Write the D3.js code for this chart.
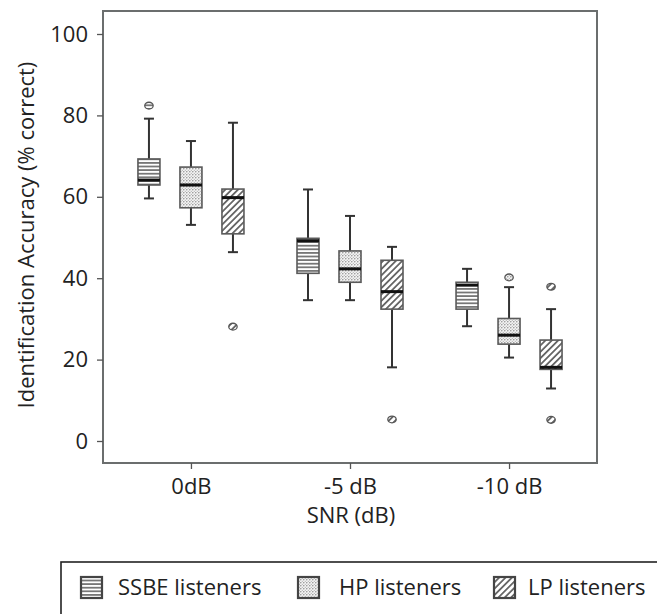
<!doctype html>
<html>
<head>
<meta charset="utf-8">
<script src="https://d3js.org/d3.v7.min.js"></script>
<style>
  body { margin: 0; background: #fff; }
  svg { display: block; font-family: "Open Sans", sans-serif; }
</style>
</head>
<body>
<svg id="chart" width="657" height="614"></svg>
<script>
// conditions and listener groups
var categories = ["0dB", "-5 dB", "-10 dB"];
var groups = ["SSBE listeners", "HP listeners", "LP listeners"];
var yTicks = [0, 20, 40, 60, 80, 100];

// box stats per condition: [lower whisker, q1, median, q3, upper whisker]
var ssbeStats = [[59.6, 62.9, 64.1, 69.3, 79.2], [34.6, 41.2, 49.2, 49.8, 61.8], [28.2, 32.4, 38.3, 39.0, 42.3]];
var hpStats   = [[53.1, 57.3, 62.9, 67.3, 73.7], [34.6, 39.0, 42.3, 46.7, 55.3], [20.5, 23.8, 26.0, 30.1, 37.8]];
var lpStats   = [[46.4, 50.9, 59.8, 61.9, 78.2], [18.1, 32.4, 36.7, 44.4, 47.7], [12.9, 17.6, 18.1, 24.8, 32.4]];

// outliers per condition
var ssbeOut = [[82.4], [], []];
var hpOut   = [[], [], [40.2]];
var lpOut   = [[28.1], [5.3], [37.9, 5.2]];

var stats = [ssbeStats, hpStats, lpStats];
var outs = [ssbeOut, hpOut, lpOut];
var patternIds = ["pat-h", "pat-dot", "pat-diag"];

var svg = d3.select("#chart");

// patterns
var defs = svg.append("defs");
var ph = defs.append("pattern").attr("id", "pat-h").attr("patternUnits", "userSpaceOnUse")
  .attr("width", 6).attr("height", 3.6);
ph.append("rect").attr("width", 6).attr("height", 3.6).attr("fill", "#fff");
ph.append("rect").attr("y", 0).attr("width", 6).attr("height", 1.8).attr("fill", "#777");

var pd = defs.append("pattern").attr("id", "pat-dot").attr("patternUnits", "userSpaceOnUse")
  .attr("width", 3).attr("height", 3);
pd.append("rect").attr("width", 3).attr("height", 3).attr("fill", "#f4f4f4");
pd.append("circle").attr("cx", 0.8).attr("cy", 0.8).attr("r", 0.75).attr("fill", "#888");
pd.append("circle").attr("cx", 2.3).attr("cy", 2.3).attr("r", 0.6).attr("fill", "#aaa");

var pg = defs.append("pattern").attr("id", "pat-diag").attr("patternUnits", "userSpaceOnUse")
  .attr("width", 4.5).attr("height", 4.5).attr("patternTransform", "rotate(45)");
pg.append("rect").attr("width", 4.5).attr("height", 4.5).attr("fill", "#fff");
pg.append("rect").attr("x", 0).attr("width", 1.8).attr("height", 4.5).attr("fill", "#666");

// scales
var frame = { left: 103, right: 597, top: 11, bottom: 463 };
var x = d3.scalePoint().domain(categories).range([frame.left, frame.right]).padding(0.553);
var xOff = d3.scalePoint().domain(groups).range([-42, 42]);
var y = d3.scaleLinear().domain([0, 100]).range([441, 34]);
var boxW = 22, capW = 10;

// frame
svg.append("rect")
  .attr("x", frame.left).attr("y", frame.top)
  .attr("width", frame.right - frame.left).attr("height", frame.bottom - frame.top)
  .attr("fill", "none").attr("stroke", "#6b6e6e").attr("stroke-width", 2);

// y axis
var yAxis = svg.append("g")
  .attr("transform", "translate(" + frame.left + ",0)")
  .call(d3.axisLeft(y).tickValues(yTicks).tickSize(6).tickPadding(9));
yAxis.select(".domain").remove();
yAxis.selectAll("line").attr("stroke", "#555").attr("stroke-width", 1.3);
yAxis.selectAll("text").attr("font-size", 22).attr("fill", "#222").attr("font-family", "'Open Sans', sans-serif");

// x axis
var xAxis = svg.append("g")
  .attr("transform", "translate(0," + frame.bottom + ")")
  .call(d3.axisBottom(x).tickSize(6).tickPadding(9));
xAxis.select(".domain").remove();
xAxis.selectAll("line").attr("stroke", "#555").attr("stroke-width", 1.3);
xAxis.selectAll("text").attr("font-size", 22).attr("fill", "#222").attr("font-family", "'Open Sans', sans-serif");

// axis titles
svg.append("text")
  .attr("x", 351).attr("y", 523)
  .attr("text-anchor", "middle").attr("font-size", 22).attr("fill", "#222")
  .text("SNR (dB)");
svg.append("text")
  .attr("transform", "translate(34," + 235 + ") rotate(-90)")
  .attr("text-anchor", "middle").attr("font-size", 22).attr("fill", "#222")
  .text("Identification Accuracy (% correct)");

// boxes
groups.forEach(function (g, gi) {
  var layer = svg.append("g");
  categories.forEach(function (c, ci) {
    var s = stats[gi][ci];
    var cx = x(c) + xOff(g);
    var bg = layer.append("g");
    // whiskers
    bg.append("line").attr("x1", cx).attr("x2", cx).attr("y1", y(s[4])).attr("y2", y(s[3]))
      .attr("stroke", "#333").attr("stroke-width", 2);
    bg.append("line").attr("x1", cx).attr("x2", cx).attr("y1", y(s[1])).attr("y2", y(s[0]))
      .attr("stroke", "#333").attr("stroke-width", 2);
    [s[0], s[4]].forEach(function (v) {
      bg.append("line").attr("x1", cx - capW / 2).attr("x2", cx + capW / 2)
        .attr("y1", y(v)).attr("y2", y(v)).attr("stroke", "#333").attr("stroke-width", 2);
    });
    // box
    bg.append("rect")
      .attr("x", cx - boxW / 2).attr("y", y(s[3]))
      .attr("width", boxW).attr("height", y(s[1]) - y(s[3]))
      .attr("fill", "url(#" + patternIds[gi] + ")")
      .attr("stroke", "#5a5a5a").attr("stroke-width", 1.6);
    // median
    bg.append("line").attr("x1", cx - boxW / 2).attr("x2", cx + boxW / 2)
      .attr("y1", y(s[2])).attr("y2", y(s[2]))
      .attr("stroke", "#111").attr("stroke-width", 3);
    // outliers
    outs[gi][ci].forEach(function (v) {
      bg.append("ellipse").attr("cx", cx).attr("cy", y(v)).attr("rx", 4.2).attr("ry", 3.4)
        .attr("fill", "url(#" + patternIds[gi] + ")").attr("stroke", "#555").attr("stroke-width", 1.3);
    });
  });
});

// legend
svg.append("rect")
  .attr("x", 61).attr("y", 562).attr("width", 700).attr("height", 200)
  .attr("fill", "none").attr("stroke", "#222").attr("stroke-width", 1.6);
var legendX = [81, 298, 494];
var legendTextX = [118, 339, 528];
groups.forEach(function (g, gi) {
  svg.append("rect").attr("x", legendX[gi]).attr("y", 577).attr("width", 21).attr("height", 21)
    .attr("fill", "url(#" + patternIds[gi] + ")").attr("stroke", "#444").attr("stroke-width", 2.2);
  svg.append("text").attr("x", legendTextX[gi]).attr("y", 595).attr("font-size", 22).attr("fill", "#222")
    .text(g);
});
</script>
</body>
</html>
